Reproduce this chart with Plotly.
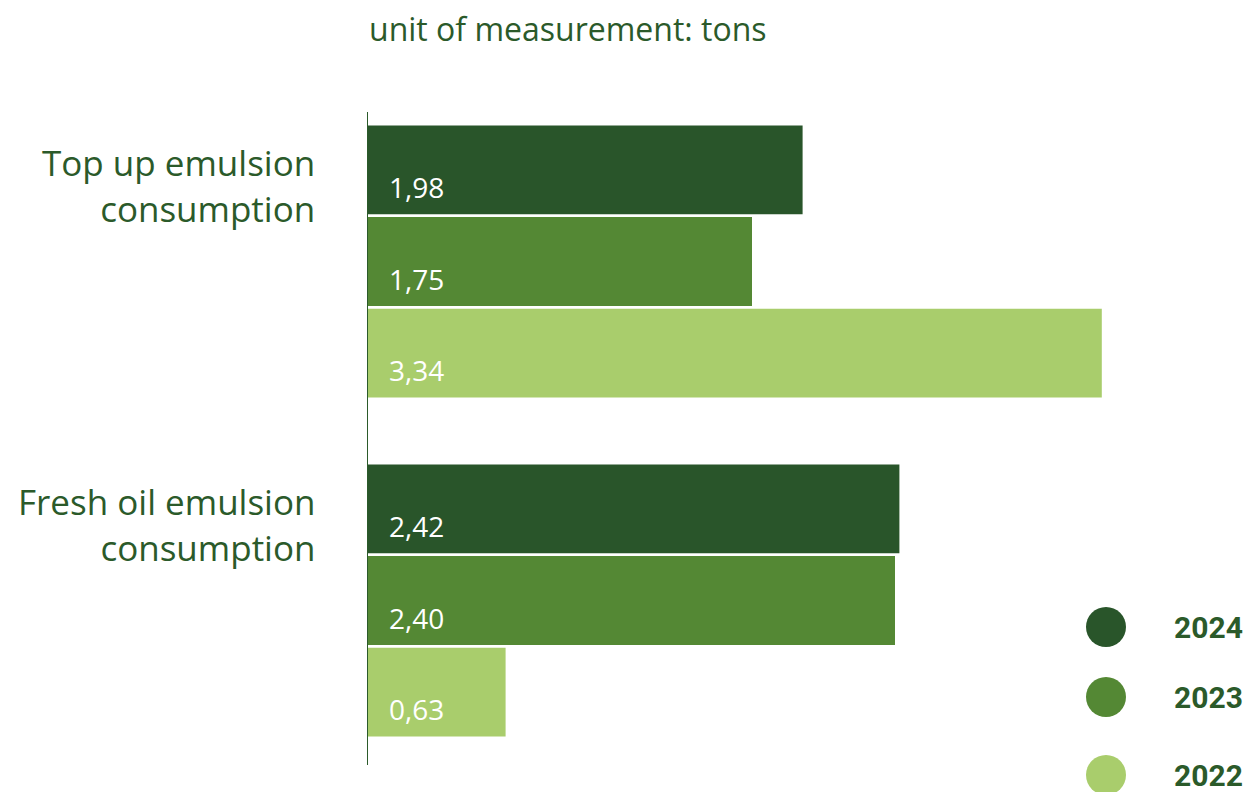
import plotly.graph_objects as go

# Consumption of emulsion, tons
categories = ["Top up emulsion consumption", "Fresh oil emulsion consumption"]
category_labels = ["Top up emulsion<br>consumption", "Fresh oil emulsion<br>consumption"]
years = ["2024", "2023", "2022"]
values = {
    "2024": [1.98, 2.42],
    "2023": [1.75, 2.40],
    "2022": [3.34, 0.63],
}
colors = {"2024": "#29552A", "2023": "#548834", "2022": "#A9CD6C"}

TEXT_GREEN = "#2B5A2A"
BODY_FONT = "Open Sans"

BARGAP = 0.19
BARGROUPGAP = 0.03

fig = go.Figure()
for yr in years:
    fig.add_trace(go.Bar(
        y=categories,
        x=values[yr],
        orientation="h",
        name=yr,
        marker=dict(color=colors[yr], line=dict(width=0)),
        showlegend=False,
        hoverinfo="skip",
    ))

W, H = 1249, 792
m_l, m_r, m_t, m_b = 367, 0, 92, 22
plot_w = W - m_l - m_r
plot_h = H - m_t - m_b
px_per_unit = 220

fig.update_layout(
    width=W, height=H,
    margin=dict(l=m_l, r=m_r, t=m_t, b=m_b),
    paper_bgcolor="white",
    plot_bgcolor="white",
    barmode="group",
    bargap=BARGAP,
    bargroupgap=BARGROUPGAP,
    separators=", ",
    xaxis=dict(range=[0, plot_w / px_per_unit], visible=False, fixedrange=True),
    yaxis=dict(categoryorder="array", categoryarray=categories, autorange="reversed",
               showticklabels=False, showgrid=False, zeroline=False, showline=False),
)

# value labels: left side of each bar, a little below its middle
band_px = plot_h / len(categories)
slot_px = band_px * (1 - BARGAP) / len(years)
for i, yr in enumerate(years):
    offset = (i - (len(years) - 1) / 2) * slot_px
    for cat, v in zip(categories, values[yr]):
        fig.add_annotation(x=0, xref="x", y=cat, yref="y",
                           text=f"{v:.2f}".replace(".", ","),
                           showarrow=False, xanchor="left", yanchor="middle",
                           xshift=20, yshift=-(offset + 17),
                           font=dict(size=28, color="white", family=BODY_FONT))

# vertical axis line, from just above the first bar to just below the last
axis_top_px, axis_bottom_px = 112, 765
fig.add_shape(type="line", xref="x", yref="paper", x0=0, x1=0,
              y0=(H - m_b - axis_bottom_px) / plot_h, y1=(H - m_b - axis_top_px) / plot_h,
              line=dict(color=TEXT_GREEN, width=2), layer="above")

# category labels
for cat, lab in zip(categories, category_labels):
    fig.add_annotation(x=0, xref="paper", y=cat, yref="y", text=lab, showarrow=False,
                       xanchor="right", yanchor="middle", align="right", xshift=-50, yshift=76,
                       font=dict(size=35, color=TEXT_GREEN, family=BODY_FONT))

# heading
fig.add_annotation(x=0, xref="paper", y=1, yref="paper", yshift=64, text="unit of measurement: tons",
                   showarrow=False, xanchor="left", yanchor="middle",
                   font=dict(size=32, color=TEXT_GREEN, family=BODY_FONT))

# legend: circles with year labels
legend_rows = [627, 697, 775]
r_px = 20
cx_px = 1106
for yr, row in zip(years, legend_rows):
    cx = (cx_px - m_l) / plot_w
    cy = (H - m_b - row) / plot_h
    fig.add_shape(type="circle", xref="paper", yref="paper",
                  x0=cx - r_px / plot_w, x1=cx + r_px / plot_w,
                  y0=cy - r_px / plot_h, y1=cy + r_px / plot_h,
                  fillcolor=colors[yr], line=dict(width=0))
    fig.add_annotation(x=(1172 - m_l) / plot_w, xref="paper", y=cy, yref="paper", text="<b>" + yr + "</b>",
                       showarrow=False, xanchor="left", yanchor="middle",
                       font=dict(size=30, color=TEXT_GREEN, family="Roboto"))

fig.write_html("out.html")
